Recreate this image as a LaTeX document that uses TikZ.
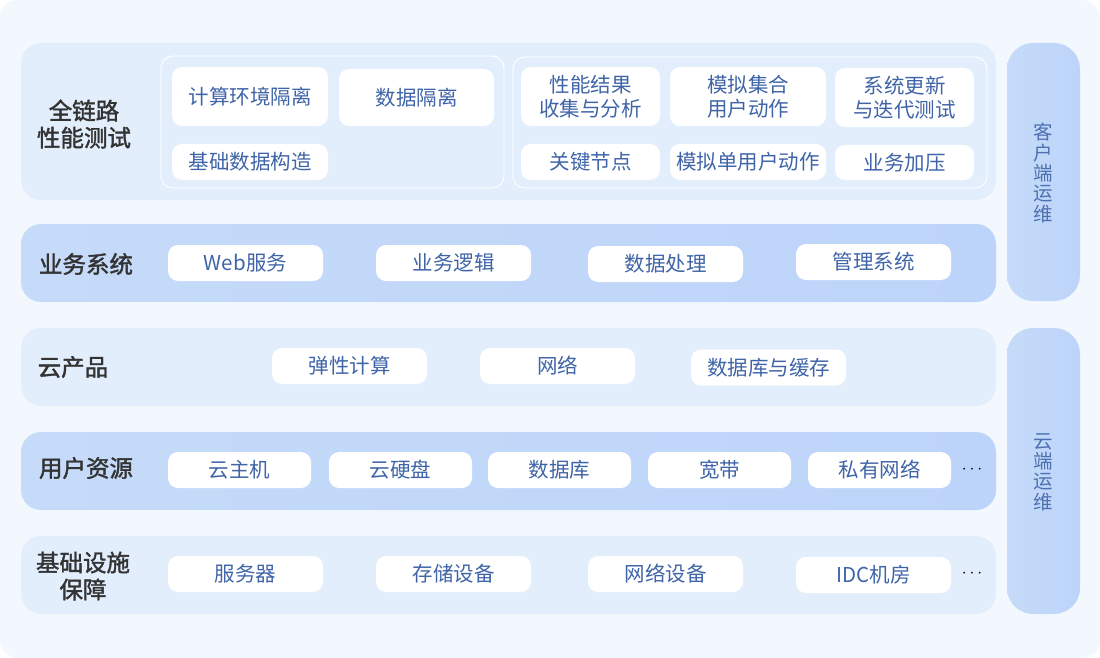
\documentclass[tikz,border=0pt]{standalone}
\usepackage{fontspec}
\setmainfont{Noto Sans CJK SC}
\newfontfamily\lblfont[FakeBold=1.6]{Noto Sans CJK SC}
\definecolor{bgc}{HTML}{F3F8FF}
\definecolor{bandlight}{HTML}{E3EEFD}
\definecolor{bandleft}{HTML}{C6DBF9}
\definecolor{bandright}{HTML}{BDD4FA}
\definecolor{boxtext}{HTML}{3F64A8}
\definecolor{labeltext}{HTML}{333333}
\definecolor{sidetext}{HTML}{4D70B0}
\begin{document}
\begin{tikzpicture}[x=1pt,y=-1pt,
  every node/.style={inner sep=0pt, outer sep=0pt},
  bandL/.style={fill=bandlight, rounded corners=20pt},
  bandD/.style={left color=bandleft, right color=bandright, rounded corners=20pt},
  sidebar/.style={left color=bandleft, right color=bandright, rounded corners=26pt},
  frame/.style={draw=white, line width=0.9pt, rounded corners=12pt},
  box/.style={fill=white, rounded corners=10pt, text=boxtext, align=center,
     font=\fontsize{20.5}{23.5}\selectfont},
  lbl/.style={text=labeltext, align=center, font=\fontsize{23.5}{27}\selectfont\lblfont},
  side/.style={text=sidetext, align=center, font=\fontsize{19.5}{20.3}\selectfont},
  dots/.style={text=black, font=\fontsize{17}{17}\selectfont}
]
\useasboundingbox (0,0) rectangle (1100,658);
\fill[white] (0,0) rectangle (1100,658);
\fill[bgc, rounded corners=18pt] (0,0) rectangle (1100,658);

% bands
\node[bandL, minimum width=975pt, minimum height=157pt] (b1) at (508.5,121.5) {};
\node[bandD, minimum width=975pt, minimum height=78pt] (b2) at (508.5,263) {};
\node[bandL, minimum width=975pt, minimum height=78pt] (b3) at (508.5,367) {};
\node[bandD, minimum width=975pt, minimum height=78pt] (b4) at (508.5,471) {};
\node[bandL, minimum width=975pt, minimum height=78pt] (b5) at (508.5,575) {};

% side bars
\node[sidebar, minimum width=73pt, minimum height=258pt] (s1) at (1043.5,172) {};
\node[sidebar, minimum width=73pt, minimum height=286pt] (s2) at (1043.5,471) {};
\node[side] (s1t) at (1043.5,173) {客\\户\\端\\运\\维};
\node[side] (s2t) at (1043.5,472) {云\\端\\运\\维};

% band 1
\node[frame, minimum width=343pt, minimum height=132pt] (f1) at (332.5,122) {};
\node[frame, minimum width=474pt, minimum height=131pt] (f2) at (750,122.5) {};
\node[lbl] (l1) at (84,124) {全链路\\性能测试};

\node[box, minimum width=156pt, minimum height=59pt] (a1) at (250,96.5) {计算环境隔离};
\node[box, minimum width=155pt, minimum height=57pt] (a2) at (416.5,97.5) {数据隔离};
\node[box, minimum width=156pt, minimum height=36pt] (a3) at (250,162) {基础数据构造};

\node[box, minimum width=139pt, minimum height=59pt] (c1) at (590.5,96.5) {性能结果\\收集与分析};
\node[box, minimum width=156pt, minimum height=59pt] (c2) at (748,96.5) {模拟集合\\用户动作};
\node[box, minimum width=139pt, minimum height=59pt] (c3) at (904.5,97.5) {系统更新\\与迭代测试};
\node[box, minimum width=139pt, minimum height=36pt] (c4) at (590.5,162) {关键节点};
\node[box, minimum width=156pt, minimum height=36pt] (c5) at (748,162) {模拟单用户动作};
\node[box, minimum width=139pt, minimum height=35pt] (c6) at (904.5,162.5) {业务加压};

% band 2
\node[lbl] (l2) at (86,264) {业务系统};
\node[box, minimum width=155pt, minimum height=36pt] (d1) at (245.5,263) {Web服务};
\node[box, minimum width=155pt, minimum height=36pt] (d2) at (453.5,263) {业务逻辑};
\node[box, minimum width=155pt, minimum height=36pt] (d3) at (665.5,264) {数据处理};
\node[box, minimum width=155pt, minimum height=36pt] (d4) at (873.5,262) {管理系统};

% band 3
\node[lbl] (l3) at (73,367) {云产品};
\node[box, minimum width=155pt, minimum height=36pt] (e1) at (349.5,366) {弹性计算};
\node[box, minimum width=155pt, minimum height=36pt] (e2) at (557.5,366) {网络};
\node[box, minimum width=155pt, minimum height=36pt] (e3) at (768.5,367.5) {数据库与缓存};

% band 4
\node[lbl] (l4) at (86,468) {用户资源};
\node[box, minimum width=143pt, minimum height=36pt] (g1) at (239.5,470) {云主机};
\node[box, minimum width=143pt, minimum height=36pt] (g2) at (400.5,470) {云硬盘};
\node[box, minimum width=143pt, minimum height=36pt] (g3) at (559.5,470) {数据库};
\node[box, minimum width=143pt, minimum height=36pt] (g4) at (719.5,470) {宽带};
\node[box, minimum width=143pt, minimum height=36pt] (g5) at (879.5,470) {私有网络};
\node[dots] (g6) at (972,470) {$\cdots$};

% band 5
\node[lbl] (l5) at (83,576) {基础设施\\保障};
\node[box, minimum width=155pt, minimum height=36pt] (h1) at (245.5,574) {服务器};
\node[box, minimum width=155pt, minimum height=36pt] (h2) at (453.5,574) {存储设备};
\node[box, minimum width=155pt, minimum height=36pt] (h3) at (665.5,574) {网络设备};
\node[box, minimum width=155pt, minimum height=36pt] (h4) at (873.5,575) {IDC机房};
\node[dots] (h5) at (972,574) {$\cdots$};
\end{tikzpicture}
\end{document}
